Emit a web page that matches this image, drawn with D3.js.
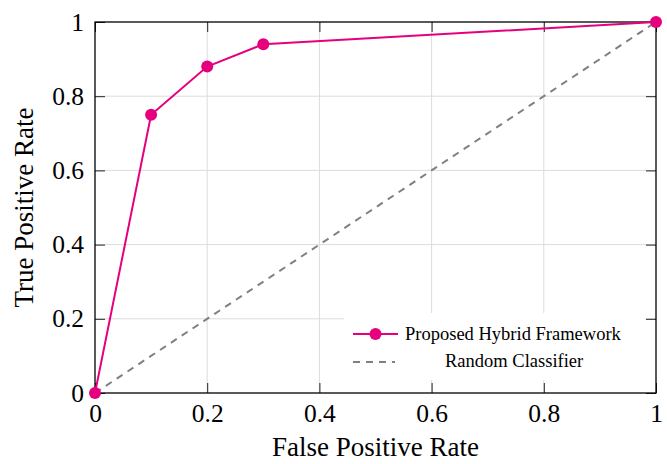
<!doctype html>
<html>
<head>
<meta charset="UTF-8">
<title>roc</title>
<script src="https://d3js.org/d3.v7.min.js"></script>
<style>
  body { margin: 0; background: #fff; }
  text { font-family: "Liberation Serif", "DejaVu Serif", serif; }
</style>
</head>
<body>
<script>
// data
var fpr = [0, 0.1, 0.2, 0.3, 1];
var tpr = [0, 0.75, 0.88, 0.94, 1];
var randomLine = [0, 1];
var ticks = [0, 0.2, 0.4, 0.6, 0.8, 1];
var seriesNames = ["Proposed Hybrid Framework", "Random Classifier"];

var W = 667, H = 464;
var pL = 95, pR = 656, pT = 22, pB = 393;
var pink = "#e6007e", grey = "#808080";

var svg = d3.select("body").append("svg").attr("width", W).attr("height", H);

var x = d3.scaleLinear().domain([0, 1]).range([pL, pR]);
var y = d3.scaleLinear().domain([0, 1]).range([pB, pT]);

// grid
svg.append("g").selectAll("line").data(ticks.slice(1, -1)).enter().append("line")
  .attr("x1", function(d){ return x(d); }).attr("x2", function(d){ return x(d); })
  .attr("y1", pT).attr("y2", pB)
  .attr("stroke", "#dcdcdc").attr("stroke-width", 1);
svg.append("g").selectAll("line").data(ticks.slice(1, -1)).enter().append("line")
  .attr("y1", function(d){ return y(d); }).attr("y2", function(d){ return y(d); })
  .attr("x1", pL).attr("x2", pR)
  .attr("stroke", "#dcdcdc").attr("stroke-width", 1);

// axes with inward ticks, mirrored
var tk = 10;
svg.append("g").attr("transform", "translate(0," + pB + ")")
  .call(d3.axisBottom(x).tickValues(ticks).tickSize(-tk).tickPadding(11).tickFormat(d3.format("~g")));
svg.append("g").attr("transform", "translate(0," + pT + ")")
  .call(d3.axisTop(x).tickValues(ticks).tickSize(-tk).tickFormat(""));
svg.append("g").attr("transform", "translate(" + pL + ",0)")
  .call(d3.axisLeft(y).tickValues(ticks).tickSize(-tk).tickPadding(11).tickFormat(d3.format("~g")));
svg.append("g").attr("transform", "translate(" + pR + ",0)")
  .call(d3.axisRight(y).tickValues(ticks).tickSize(-tk).tickFormat(""));

svg.selectAll(".domain").remove();
svg.selectAll(".tick line").attr("stroke", "#222").attr("stroke-width", 1);
svg.selectAll(".tick text")
  .style("font-family", "'Liberation Serif', serif").style("font-size", "25.5px").attr("fill", "#000");

// frame
svg.append("rect").attr("x", pL).attr("y", pT)
  .attr("width", pR - pL).attr("height", pB - pT)
  .attr("fill", "none").attr("stroke", "#000").attr("stroke-width", 1.3);

// random classifier
svg.append("line")
  .attr("x1", x(randomLine[0])).attr("y1", y(randomLine[0]))
  .attr("x2", x(randomLine[1])).attr("y2", y(randomLine[1]))
  .attr("stroke", grey).attr("stroke-width", 2).attr("stroke-dasharray", "7,6");

// proposed
var pts = fpr.map(function(d, i){ return [d, tpr[i]]; });
svg.append("path").datum(pts)
  .attr("d", d3.line().x(function(d){ return x(d[0]); }).y(function(d){ return y(d[1]); }))
  .attr("fill", "none").attr("stroke", pink).attr("stroke-width", 2);
svg.append("g").selectAll("circle").data(pts).enter().append("circle")
  .attr("cx", function(d){ return x(d[0]); }).attr("cy", function(d){ return y(d[1]); })
  .attr("r", 6).attr("fill", pink);

// legend
var lg = svg.append("g");
lg.append("rect").attr("x", 344).attr("y", 313).attr("width", 301).attr("height", 67).attr("fill", "#fff");
lg.append("line").attr("x1", 353).attr("x2", 398).attr("y1", 334).attr("y2", 334)
  .attr("stroke", pink).attr("stroke-width", 2);
lg.append("circle").attr("cx", 375.5).attr("cy", 334).attr("r", 6).attr("fill", pink);
lg.append("text").attr("x", 405).attr("y", 340).attr("font-size", 18.5).text(seriesNames[0]);
lg.append("line").attr("x1", 353).attr("x2", 395).attr("y1", 362).attr("y2", 362)
  .attr("stroke", grey).attr("stroke-width", 2).attr("stroke-dasharray", "7,6");
lg.append("text").attr("x", 445).attr("y", 367).attr("font-size", 18.5).text(seriesNames[1]);

// axis titles
svg.append("text").attr("x", (pL + pR) / 2).attr("y", 456).attr("text-anchor", "middle")
  .attr("font-size", 27).text("False Positive Rate");
svg.append("text").attr("transform", "translate(33," + ((pT + pB) / 2) + ") rotate(-90)")
  .attr("text-anchor", "middle").attr("font-size", 27).text("True Positive Rate");
</script>
</body>
</html>
